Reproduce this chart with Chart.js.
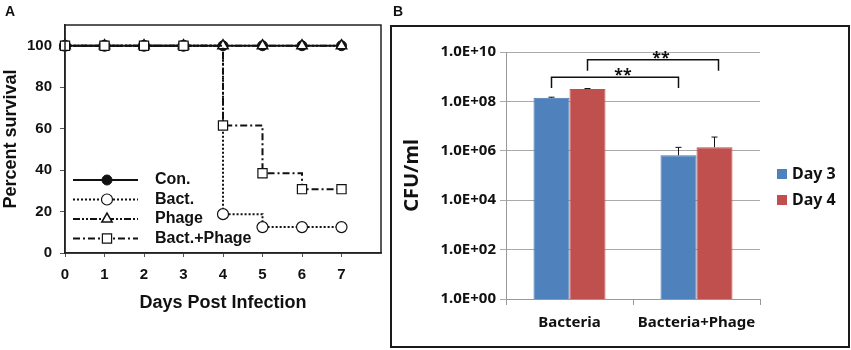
<!DOCTYPE html>
<html>
<head>
<meta charset="utf-8">
<script src="https://cdn.jsdelivr.net/npm/chart.js@4.4.1/dist/chart.umd.min.js"></script>
<style>
html, body { margin: 0; padding: 0; background: #fff; }
#wrap { position: relative; width: 851px; height: 350px; overflow: hidden; }
.panel-label { position: absolute; font: bold 14px 'Liberation Sans', Arial, sans-serif; color: #111; }
#boxA { position: absolute; left: 0; top: 0; width: 390px; height: 350px; }
#boxB { position: absolute; left: 390px; top: 0; width: 461px; height: 350px; }
</style>
</head>
<body>
<div id="wrap">
  <div id="boxA"><canvas id="chartA"></canvas></div>
  <div id="boxB"><canvas id="chartB"></canvas></div>
  <div class="panel-label" style="left:5px;top:3px;">A</div>
  <div class="panel-label" style="left:393px;top:3px;">B</div>
</div>
<script>
// panel A - survival
const days = [0, 1, 2, 3, 4, 5, 6, 7];
const conSurvival = [100, 100, 100, 100, 100, 100, 100, 100];
const bactSurvival = [100, 100, 100, 100, 18.75, 12.5, 12.5, 12.5];
const phageSurvival = [100, 100, 100, 100, 100, 100, 100, 100];
const bactPhageSurvival = [100, 100, 100, 100, 61.5, 38.5, 30.8, 30.8];
const seriesNamesA = ['Con.', 'Bact.', 'Phage', 'Bact.+Phage'];
const yTicksA = [0, 20, 40, 60, 80, 100];

// panel B - CFU counts
const groupsB = ['Bacteria', 'Bacteria+Phage'];
const day3Cfu = [1.4e8, 6.6e5];
const day4Cfu = [3.2e8, 1.4e6];
const day3Err = [8e6, 7.2e5];
const day4Err = [1.2e7, 2.2e6];
const seriesNamesB = ['Day 3', 'Day 4'];
const yTicksB = [1, 1e2, 1e4, 1e6, 1e8, 1e10];
const yTickLabelsB = ['1.0E+00', '1.0E+02', '1.0E+04', '1.0E+06', '1.0E+08', '1.0E+10'];
const sigLabels = ['**', '**'];

const ink = '#111';
const fontA = "'Liberation Sans', Arial, sans-serif";
const fontB = "'Noto Sans', 'Open Sans', sans-serif";

function pts(vals) {
    return days.map((d, i) => ({ x: d, y: vals[i] }));
}

const frameA = {
    id: 'frameA',
    afterDraw(chart) {
        const { ctx, chartArea: a } = chart;
        ctx.save();
        ctx.strokeStyle = '#222';
        ctx.lineWidth = 1.5;
        ctx.strokeRect(a.left, a.top, a.right - a.left, a.bottom - a.top);
        ctx.restore();
    }
};

const legendA = {
    id: 'legendA',
    afterDraw(chart) {
        const ctx = chart.ctx;
        ctx.save();
        chart.data.datasets.forEach((ds, i) => {
            const y = 180 + i * 19.5;
            ctx.strokeStyle = ds.borderColor;
            ctx.lineWidth = ds.borderWidth;
            ctx.setLineDash(ds.borderDash || []);
            ctx.beginPath();
            ctx.moveTo(73, y);
            ctx.lineTo(138, y);
            ctx.stroke();
            ctx.setLineDash([]);
            ctx.fillStyle = ds.pointBackgroundColor;
            ctx.strokeStyle = ds.pointBorderColor;
            ctx.lineWidth = ds.pointBorderWidth;
            Chart.helpers.drawPoint(ctx, { pointStyle: ds.pointStyle, radius: ds.pointRadius, rotation: 0, borderWidth: ds.pointBorderWidth }, 107, y);
            ctx.fillStyle = ink;
            ctx.font = 'bold 16px ' + fontA;
            ctx.textBaseline = 'middle';
            ctx.fillText(ds.label, 155, y);
        });
        ctx.restore();
    }
};

new Chart(document.getElementById('chartA'), {
    type: 'line',
    data: {
        datasets: [{
            label: seriesNamesA[0],
            data: pts(conSurvival),
            borderColor: ink, borderWidth: 2, stepped: true,
            pointStyle: 'circle', pointRadius: 5,
            pointBackgroundColor: ink, pointBorderColor: ink, pointBorderWidth: 1,
            order: 4, clip: false
        }, {
            label: seriesNamesA[1],
            data: pts(bactSurvival),
            borderColor: ink, borderWidth: 2, borderDash: [2, 2], stepped: true,
            pointStyle: 'circle', pointRadius: 5.5,
            pointBackgroundColor: '#fff', pointBorderColor: ink, pointBorderWidth: 1.2,
            order: 3, clip: false
        }, {
            label: seriesNamesA[2],
            data: pts(phageSurvival),
            borderColor: ink, borderWidth: 2, borderDash: [7, 2, 2, 2, 2, 2], stepped: true,
            pointStyle: 'triangle', pointRadius: 6,
            pointBackgroundColor: '#fff', pointBorderColor: ink, pointBorderWidth: 1.5,
            order: 2, clip: false
        }, {
            label: seriesNamesA[3],
            data: pts(bactPhageSurvival),
            borderColor: ink, borderWidth: 2, borderDash: [7, 3, 2, 3], stepped: true,
            pointStyle: 'rect', pointRadius: 6.5,
            pointBackgroundColor: '#fff', pointBorderColor: ink, pointBorderWidth: 1.2,
            order: 1, clip: false
        }]
    },
    options: {
        responsive: true,
        maintainAspectRatio: false,
        animation: false,
        events: [],
        layout: { padding: { left: 0, right: 9, top: 25, bottom: 36 } },
        plugins: { legend: { display: false }, tooltip: { enabled: false } },
        scales: {
            x: {
                type: 'linear', min: 0, max: 8,
                afterBuildTicks: s => { s.ticks = days.map(v => ({ value: v })); },
                afterFit: s => { s.height = 61; },
                ticks: { font: { family: fontA, size: 15, weight: 'bold' }, color: ink, padding: 9 },
                grid: { drawOnChartArea: false, drawTicks: true, tickLength: 4, color: '#555' },
                border: { display: true, color: '#222', width: 1.5 },
                title: { display: true, text: 'Days Post Infection', color: ink, padding: 0,
                         font: { family: fontA, size: 18, weight: 'bold' } }
            },
            y: {
                min: 0, max: 110,
                afterBuildTicks: s => { s.ticks = yTicksA.map(v => ({ value: v })); },
                afterFit: s => { s.width = 65; },
                ticks: { font: { family: fontA, size: 15, weight: 'bold' }, color: ink, padding: 8 },
                grid: { drawOnChartArea: false, drawTicks: true, tickLength: 5, color: '#555' },
                border: { display: true, color: '#222', width: 1.5 },
                title: { display: true, text: 'Percent survival', color: ink, padding: { top: 0, bottom: 0 },
                         font: { family: fontA, size: 18, weight: 'bold' } }
            }
        }
    },
    plugins: [frameA, legendA]
});

// panel B helpers
const errorBars = {
    id: 'errorBars',
    afterDatasetsDraw(chart) {
        const ctx = chart.ctx;
        const yScale = chart.scales.y;
        const errs = [day3Err, day4Err];
        ctx.save();
        ctx.strokeStyle = ink;
        ctx.lineWidth = 1;
        chart.data.datasets.forEach((ds, d) => {
            chart.getDatasetMeta(d).data.forEach((bar, i) => {
                const yTop = yScale.getPixelForValue(ds.data[i] + errs[d][i]);
                ctx.beginPath();
                ctx.moveTo(bar.x, bar.y);
                ctx.lineTo(bar.x, yTop);
                ctx.moveTo(bar.x - 3, yTop);
                ctx.lineTo(bar.x + 3, yTop);
                ctx.stroke();
            });
        });
        ctx.restore();
    }
};

const brackets = {
    id: 'brackets',
    afterDraw(chart) {
        const ctx = chart.ctx;
        const yScale = chart.scales.y;
        // bracket per dataset: joins the two groups of the same day
        const levels = [[9.5e8, 3.5e8], [4.8e9, 1.75e9]];
        ctx.save();
        ctx.strokeStyle = ink;
        ctx.lineWidth = 1.5;
        ctx.fillStyle = ink;
        ctx.font = 'bold 16px ' + fontB;
        ctx.textAlign = 'center';
        ctx.textBaseline = 'alphabetic';
        chart.data.datasets.forEach((ds, d) => {
            const bars = chart.getDatasetMeta(d).data;
            const x1 = bars[0].x, x2 = bars[1].x + d * 4;
            const yl = yScale.getPixelForValue(levels[d][0]);
            const yt = yScale.getPixelForValue(levels[d][1]);
            ctx.beginPath();
            ctx.moveTo(x1, yt);
            ctx.lineTo(x1, yl);
            ctx.lineTo(x2, yl);
            ctx.lineTo(x2, yt);
            ctx.stroke();
            ctx.fillText(sigLabels[d], (x1 + x2) / 2 + 8, yl + 3);
        });
        ctx.restore();
    }
};

const frameLegendB = {
    id: 'frameLegendB',
    afterDraw(chart) {
        const ctx = chart.ctx;
        ctx.save();
        ctx.strokeStyle = '#1a1a1a';
        ctx.lineWidth = 2;
        ctx.strokeRect(1, 26, 458, 321);
        ctx.font = 'bold 16px ' + fontB;
        ctx.textBaseline = 'middle';
        chart.data.datasets.forEach((ds, i) => {
            const y = 174 + i * 26;
            ctx.fillStyle = ds.backgroundColor;
            ctx.fillRect(387, y - 5, 10, 10);
            ctx.fillStyle = ink;
            ctx.fillText(ds.label, 402, y);
        });
        ctx.restore();
    }
};

new Chart(document.getElementById('chartB'), {
    type: 'bar',
    data: {
        labels: groupsB,
        datasets: [{
            label: seriesNamesB[0],
            data: day3Cfu,
            backgroundColor: '#4F81BD', borderColor: '#4677b5', borderWidth: 1
        }, {
            label: seriesNamesB[1],
            data: day4Cfu,
            backgroundColor: '#C0504D', borderColor: '#cc4a47', borderWidth: 1
        }]
    },
    options: {
        responsive: true,
        maintainAspectRatio: false,
        animation: false,
        events: [],
        barPercentage: 1,
        categoryPercentage: 0.567,
        layout: { padding: { left: 0, right: 91, top: 52, bottom: 6 } },
        plugins: { legend: { display: false }, tooltip: { enabled: false } },
        scales: {
            x: {
                afterFit: s => { s.height = 45; },
                ticks: { font: { family: fontB, size: 15, weight: 'bold' }, color: ink, padding: 9 },
                grid: { offset: true, drawOnChartArea: false, drawTicks: true, tickLength: 6, color: '#999' },
                border: { display: true, color: '#999' }
            },
            y: {
                type: 'logarithmic', min: 1, max: 1e10,
                afterBuildTicks: s => { s.ticks = yTicksB.map(v => ({ value: v })); },
                afterFit: s => { s.width = 116; },
                ticks: { font: { family: fontB, size: 15, weight: 'bold' }, color: ink, padding: 4,
                         callback: (v, i) => yTickLabelsB[i] },
                grid: { color: '#aaa', drawTicks: true, tickLength: 6 },
                border: { display: true, color: '#999' },
                title: { display: true, text: 'CFU/ml', color: ink, padding: { top: 10, bottom: 0 },
                         font: { family: fontB, size: 20, weight: 'bold' } }
            }
        }
    },
    plugins: [errorBars, brackets, frameLegendB]
});
</script>
</body>
</html>
